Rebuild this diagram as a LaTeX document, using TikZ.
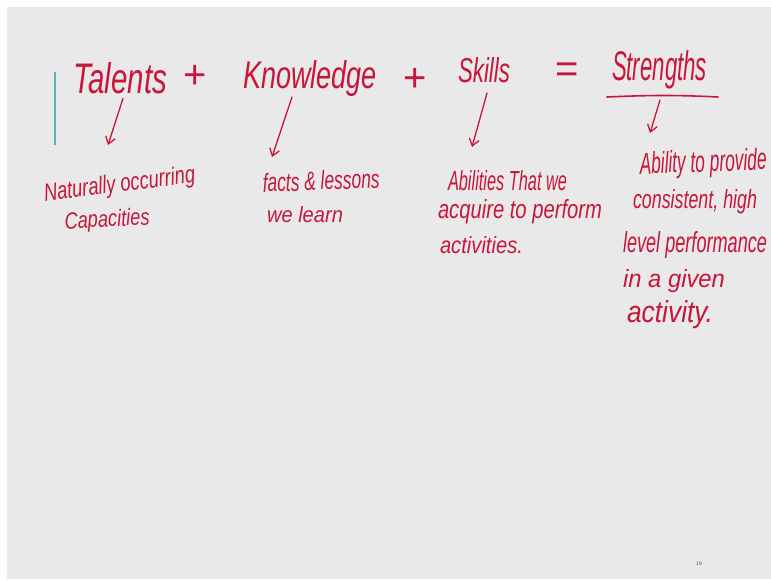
\documentclass[tikz,border=0pt]{standalone}
\usepackage{fontspec}
\setmainfont{Liberation Sans}
\usepackage{graphicx}
\usetikzlibrary{arrows.meta}
\definecolor{ink}{RGB}{200,22,58}
\definecolor{slide}{RGB}{233,233,233}
\definecolor{cyanline}{RGB}{95,175,192}
\newcommand{\hwtxt}[3]{\resizebox{#1pt}{#2pt}{\itshape #3}}
\tikzset{
  hand/.style={inner sep=0pt, outer sep=0pt, text=ink, anchor=base west},
  sym/.style={inner sep=0pt, text=ink, font=\fontsize{40}{40}\selectfont},
  arr/.style={draw=ink, line width=1.3pt, line cap=round, -{Straight Barb[length=7pt,width=10pt,line width=1.3pt]}},
  pen/.style={draw=ink, line width=1.6pt, line cap=round}
}
\begin{document}
\begin{tikzpicture}[x=1pt,y=-1pt]
\useasboundingbox (0,0) rectangle (771,579);
\fill[white] (0,0) rectangle (771,579);
\fill[slide] (7,7) rectangle (771,579);
% cyan margin line
\draw[cyanline, line width=1.5pt] (55,72) -- (55,145);
% title row
\node[hand] (talents) at (73,93) {\hwtxt{94}{31}{Talents}};
\node[sym] (plus1) at (195,77) {+};
\node[hand] (knowledge) at (243,88) {\hwtxt{134}{28}{Knowledge}};
\node[sym] (plus2) at (415,80) {+};
\node[hand] (skills) at (458,82) {\hwtxt{52}{25}{Skills}};
\node[sym] (eq) at (567,73) {=};
\node[hand] (strengths) at (612,80) {\hwtxt{95}{30}{Strengths}};
\draw[pen] ([xshift=-5pt,yshift=-17pt]strengths.base west) .. controls ([xshift=40pt,yshift=-15pt]strengths.base west) and ([xshift=-30pt,yshift=-15pt]strengths.base east) .. ([xshift=11pt,yshift=-17pt]strengths.base east);
% descriptions
\node[hand, rotate=7] (nat1) at (45,201) {\hwtxt{152}{18}{Naturally occurring}};
\node[hand, rotate=3] (nat2) at (65,229) {\hwtxt{85}{17}{Capacities}};
\node[hand, rotate=2] (facts1) at (263,192) {\hwtxt{117}{19}{facts \& lessons}};
\node[hand] (facts2) at (267,222) {\hwtxt{76}{16}{we learn}};
\node[hand] (abil1) at (448,190) {\hwtxt{119}{20}{Abilities That we}};
\node[hand] (abil2) at (438,218) {\hwtxt{164}{19}{acquire to perform}};
\node[hand] (abil3) at (440,253) {\hwtxt{83}{17}{activities.}};
\node[hand, rotate=2] (str1) at (640,174) {\hwtxt{127}{22}{Ability to provide}};
\node[hand] (str2) at (633,208) {\hwtxt{124}{19}{consistent, high}};
\node[hand] (str3) at (623,252) {\hwtxt{144}{21}{level performance}};
\node[hand] (str4) at (623,287) {\hwtxt{102}{18}{in a given}};
\node[hand] (str5) at (627,322) {\hwtxt{86}{22}{activity.}};
% arrow tips
\coordinate (ta) at (108,145);
\coordinate (tk) at (272,157);
\coordinate (ts) at (472,147);
\coordinate (tst) at (650,133);
\draw[arr] ([xshift=3pt,yshift=-5pt]talents.south) -- (ta);
\draw[arr] ([xshift=-18pt,yshift=-9pt]knowledge.base) -- (tk);
\draw[arr] ([xshift=3pt,yshift=-11pt]skills.base) -- (ts);
\draw[arr] ([xshift=0.5pt,yshift=-20pt]strengths.base) -- (tst);
% page number
\node[inner sep=0pt, text=black!70, font=\fontsize{5}{5}\selectfont] (pagenum) at (699,564) {19};
\end{tikzpicture}
\end{document}
